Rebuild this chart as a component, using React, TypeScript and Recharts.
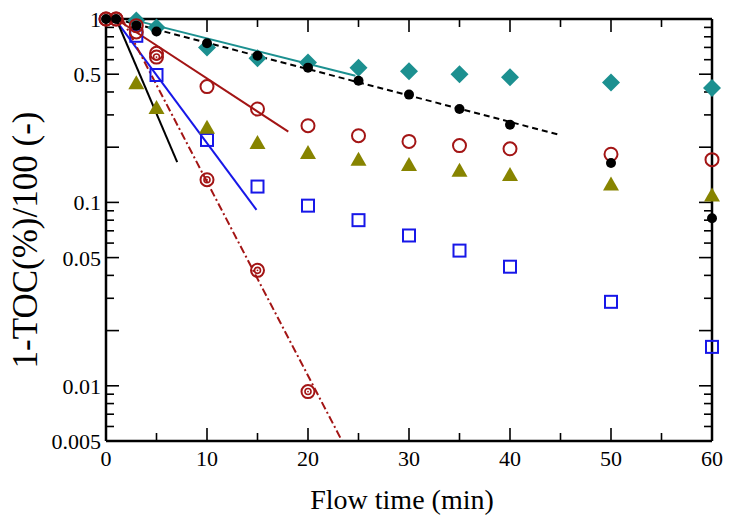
import React from 'react';
import { ComposedChart, Scatter, Line, XAxis, YAxis, ReferenceLine } from 'recharts';

// sampling times (min)
const tAll = [0, 1, 3, 5, 10, 15, 20, 25, 30, 35, 40, 50, 60];
const tMain = [3, 5, 10, 15, 20, 25, 30, 35, 40, 50, 60];
const tShort = [0, 1, 3, 5, 10, 15, 20];

// 1 - TOC/100
const diamondVals = [0.98, 0.9, 0.7, 0.61, 0.58, 0.543, 0.519, 0.5, 0.481, 0.45, 0.42];
const squareVals = [0.81, 0.495, 0.219, 0.122, 0.096, 0.08, 0.066, 0.0546, 0.0446, 0.0287, 0.0163];
const triangleVals = [0.446, 0.327, 0.255, 0.211, 0.186, 0.171, 0.16, 0.149, 0.141, 0.125, 0.109];
const openCircleVals = [1, 1, 0.85, 0.65, 0.428, 0.323, 0.262, 0.231, 0.215, 0.204, 0.196, 0.183, 0.171];
const dotVals = [1, 1, 0.92, 0.855, 0.737, 0.63, 0.543, 0.461, 0.387, 0.323, 0.265, 0.164, 0.082];
const targetVals = [1, 1, 0.92, 0.62, 0.133, 0.0426, 0.0093];

// first-order fit lines: [start, end]
const fitTealT = [3, 24.7];
const fitTealV = [0.98, 0.49];
const fitDashT = [1, 44.85];
const fitDashV = [1, 0.234];
const fitRedT = [1, 18.05];
const fitRedV = [1, 0.243];
const fitBlueT = [1, 14.9];
const fitBlueV = [0.98, 0.091];
const fitBlackT = [1, 7.05];
const fitBlackV = [1, 0.166];
const fitDashDotT = [1.6, 23.37];
const fitDashDotV = [1, 0.005];

// axis ticks
const xMajor = [0, 10, 20, 30, 40, 50, 60];
const xMinor = [5, 15, 25, 35, 45, 55];
const yLabels = [0.005, 0.01, 0.05, 0.1, 0.5, 1];
const yLong = [0.005, 0.01, 0.02, 0.05, 0.1, 0.2, 0.5, 1];
const yShort = [0.006, 0.007, 0.008, 0.009, 0.03, 0.04, 0.06, 0.07, 0.08, 0.09, 0.3, 0.4, 0.6, 0.7, 0.8, 0.9];
const xDomain = [0, 60];
const yDomain = [0.005, 1];

const zip = (t: number[], v: number[]) => t.map((x, i) => ({ x, y: v[i] }));
const along = (x: number, v: number[]) => v.map((y) => ({ x, y }));
const across = (t: number[], y: number) => t.map((x) => ({ x, y }));

const FONT = '"Liberation Serif", "Times New Roman", serif';
const TEAL = '#1c9090';
const RED = '#a31515';
const BLUE = '#1717e8';
const OLIVE = '#878400';

const LONG = 13;
const SHORT = 8;
const TICK_W = 1.6;

// tick labels only; tick marks are drawn as scatter shapes below
const LeftLabel = (props: any) => (
  <text x={Number(props.x) - 5} y={Number(props.y)} dy="0.36em" textAnchor="end" fontSize={22} fontFamily={FONT} fill="#000">
    {String(props.payload.value)}
  </text>
);
const BottomLabel = (props: any) => (
  <text x={Number(props.x)} y={Number(props.y) + 25} textAnchor="middle" fontSize={22} fontFamily={FONT} fill="#000">
    {String(props.payload.value)}
  </text>
);

const tickMark = (dx: number, dy: number) => ({ cx, cy }: any) => (
  <path d={`M${cx},${cy}L${cx + dx},${cy + dy}`} stroke="#000" strokeWidth={TICK_W} fill="none" />
);

const Diamond = ({ cx, cy }: any) => (
  <polygon points={`${cx},${cy - 9} ${cx + 9},${cy} ${cx},${cy + 9} ${cx - 9},${cy}`} fill={TEAL} />
);
const Square = ({ cx, cy }: any) => (
  <rect x={cx - 6} y={cy - 6} width={12} height={12} fill="none" stroke={BLUE} strokeWidth={2} />
);
const Triangle = ({ cx, cy }: any) => (
  <polygon points={`${cx},${cy - 8} ${cx + 8},${cy + 6} ${cx - 8},${cy + 6}`} fill={OLIVE} />
);
const OpenCircle = ({ cx, cy }: any) => (
  <circle cx={cx} cy={cy} r={6.5} fill="none" stroke={RED} strokeWidth={2} />
);
const Dot = ({ cx, cy }: any) => <circle cx={cx} cy={cy} r={5} fill="#000" />;
const Target = ({ cx, cy }: any) => (
  <g>
    <circle cx={cx} cy={cy} r={6.5} fill="none" stroke={RED} strokeWidth={2} />
    <circle cx={cx} cy={cy} r={3} fill="none" stroke={RED} strokeWidth={1.6} />
    <circle cx={cx} cy={cy} r={0.9} fill={RED} />
  </g>
);

const YTitle = ({ viewBox }: any) => {
  const x = viewBox.x + 21;
  const y = viewBox.y + viewBox.height / 2 + 10;
  return (
    <text x={x} y={y} transform={`rotate(-90, ${x}, ${y})`} textAnchor="middle" fontSize={35} fontFamily={FONT} fill="#000">
      1-TOC(%)/100 (-)
    </text>
  );
};

const axisLine = { stroke: '#000', strokeWidth: 2.5 };

export default function App() {
  return (
    <div style={{ position: 'absolute', left: 0, top: 0, background: '#fff' }}>
      <ComposedChart width={730} height={525} margin={{ top: 19, right: 18, bottom: 44, left: 16 }}>
        <XAxis
          type="number"
          dataKey="x"
          domain={xDomain}
          ticks={xMajor}
          interval={0}
          tickSize={0}
          tickMargin={0}
          tick={<BottomLabel />}
          tickLine={false}
          axisLine={axisLine}
          height={40}
          label={{
            value: 'Flow time (min)',
            position: 'insideBottom',
            offset: -28,
            dx: -7,
            fontSize: 28,
            fontFamily: FONT,
            fill: '#000',
          }}
        />
        <YAxis
          type="number"
          dataKey="y"
          scale="log"
          domain={yDomain}
          ticks={yLabels}
          interval={0}
          tickSize={0}
          tickMargin={0}
          tick={<LeftLabel />}
          tickLine={false}
          axisLine={axisLine}
          width={90}
          label={<YTitle />}
        />

        {/* top and right edges of the frame */}
        <ReferenceLine y={yDomain[1]} stroke="#000" strokeWidth={2.5} />
        <ReferenceLine x={xDomain[1]} stroke="#000" strokeWidth={2.5} />

        <Line data={zip(fitTealT, fitTealV)} dataKey="y" stroke={TEAL} strokeWidth={2} dot={false} isAnimationActive={false} />
        <Line data={zip(fitDashT, fitDashV)} dataKey="y" stroke="#000" strokeWidth={2} strokeDasharray="6 4" dot={false} isAnimationActive={false} />
        <Line data={zip(fitRedT, fitRedV)} dataKey="y" stroke={RED} strokeWidth={2} dot={false} isAnimationActive={false} />
        <Line data={zip(fitBlueT, fitBlueV)} dataKey="y" stroke={BLUE} strokeWidth={2} dot={false} isAnimationActive={false} />
        <Line data={zip(fitBlackT, fitBlackV)} dataKey="y" stroke="#000" strokeWidth={2} dot={false} isAnimationActive={false} />
        <Line data={zip(fitDashDotT, fitDashDotV)} dataKey="y" stroke={RED} strokeWidth={2} strokeDasharray="8 3 2 3" dot={false} isAnimationActive={false} />

        {/* inward tick marks on all four sides */}
        <Scatter data={along(xDomain[0], yLong)} shape={tickMark(LONG, 0)} isAnimationActive={false} />
        <Scatter data={along(xDomain[0], yShort)} shape={tickMark(SHORT, 0)} isAnimationActive={false} />
        <Scatter data={along(xDomain[1], yLong)} shape={tickMark(-LONG, 0)} isAnimationActive={false} />
        <Scatter data={along(xDomain[1], yShort)} shape={tickMark(-SHORT, 0)} isAnimationActive={false} />
        <Scatter data={across(xMajor, yDomain[0])} shape={tickMark(0, -LONG)} isAnimationActive={false} />
        <Scatter data={across(xMinor, yDomain[0])} shape={tickMark(0, -SHORT)} isAnimationActive={false} />
        <Scatter data={across(xMajor, yDomain[1])} shape={tickMark(0, LONG)} isAnimationActive={false} />
        <Scatter data={across(xMinor, yDomain[1])} shape={tickMark(0, SHORT)} isAnimationActive={false} />

        <Scatter data={zip(tMain, diamondVals)} shape={<Diamond />} isAnimationActive={false} />
        <Scatter data={zip(tMain, squareVals)} shape={<Square />} isAnimationActive={false} />
        <Scatter data={zip(tMain, triangleVals)} shape={<Triangle />} isAnimationActive={false} />
        <Scatter data={zip(tAll, openCircleVals)} shape={<OpenCircle />} isAnimationActive={false} />
        <Scatter data={zip(tShort, targetVals)} shape={<Target />} isAnimationActive={false} />
        <Scatter data={zip(tAll, dotVals)} shape={<Dot />} isAnimationActive={false} />
      </ComposedChart>
    </div>
  );
}
